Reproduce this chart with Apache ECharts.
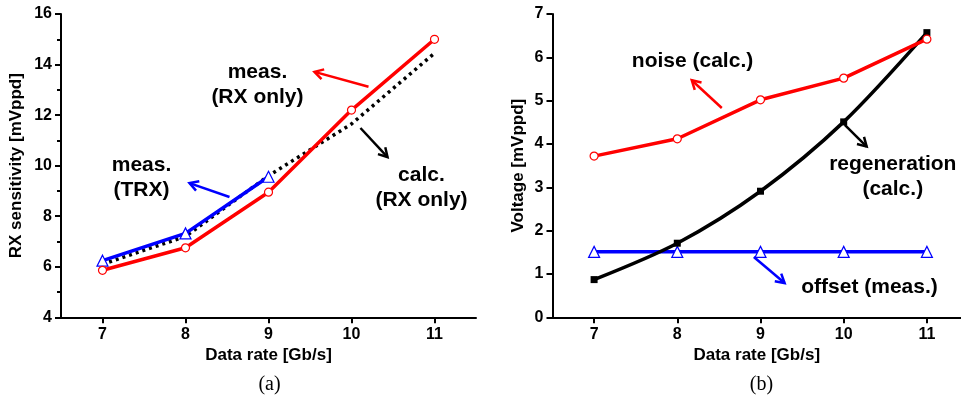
<!DOCTYPE html>
<html>
<head>
<meta charset="utf-8">
<script src="https://cdn.jsdelivr.net/npm/echarts@6/dist/echarts.min.js"></script>
<style>
  html, body { margin: 0; padding: 0; background: #fff; }
  #chart { width: 961px; height: 399px; }
</style>
</head>
<body>
<div id="chart"></div>
<script>
// Data rates (Gb/s) shared by both panels
const rates = [7, 8, 9, 10, 11];
const rateTicks = [7, 8, 9, 10, 11];

// Panel (a): RX sensitivity [mVppd]
const rxMeas = [5.86, 6.75, 8.95, 12.2, 15.0];
const trxRates = [7, 8, 9];
const trxMeas = [6.24, 7.32, 9.56];
const rxCalc = [6.1, 7.2, 9.6, 11.65, 14.45];

// Panel (b): Voltage [mVppd]
const noiseCalc = [3.72, 4.12, 5.02, 5.52, 6.42];
const regenCalc = [0.87, 1.71, 2.91, 4.51, 6.57];
const offsetMeas = [1.51, 1.51, 1.51, 1.51, 1.51];

// Annotation labels and their pointer arrows, in each panel's data units
const notesA = [
  { text: 'meas.\n(RX only)', at: [8.867, 13.19], color: '#000' },
  { text: 'calc.\n(RX only)', at: [10.843, 9.14], color: '#000' },
  { text: 'meas.\n(TRX)', at: [7.47, 9.53], color: '#000' }
];
const arrowsA = [
  { from: [10.205, 13.12], to: [9.554, 13.71], color: '#ff0000' },
  { from: [10.108, 11.49], to: [10.434, 10.34], color: '#000000' },
  { from: [8.53, 8.76], to: [8.048, 9.31], color: '#0000ff' }
];
const notesB = [
  { text: 'noise (calc.)', at: [8.183, 5.91], color: '#000' },
  { text: 'regeneration\n(calc.)', at: [10.59, 3.25], color: '#000' },
  { text: 'offset (meas.)', at: [10.31, 0.70], color: '#000' }
];
const arrowsB = [
  { from: [8.535, 4.83], to: [8.174, 5.47], color: '#ff0000' },
  { from: [10.013, 4.44], to: [10.276, 3.94], color: '#000000' },
  { from: [8.92, 1.39], to: [9.29, 0.79], color: '#0000ff' }
];

const pairs = (xs, ys) => xs.map((x, i) => [x, ys[i]]);

const FONT = '"Liberation Sans", Arial, Helvetica, sans-serif';
const RED = '#ff0000', BLUE = '#0000ff', BLACK = '#000000';

function xAxisFor(gridIndex, max) {
  return {
    type: 'value', gridIndex, min: 6.5, max,
    name: 'Data rate [Gb/s]', nameLocation: 'middle', nameGap: 30,
    nameTextStyle: { fontFamily: FONT, fontWeight: 'bold', fontSize: 17, color: '#000' },
    axisLine: { show: true, onZero: false, lineStyle: { color: '#000', width: 2 } },
    axisTick: { show: true, customValues: rateTicks, length: 6, lineStyle: { color: '#000', width: 2 } },
    axisLabel: { customValues: rateTicks, margin: 9, fontFamily: FONT, fontWeight: 'bold', fontSize: 16, color: '#000' },
    splitLine: { show: false }
  };
}

function yAxisFor(gridIndex, min, max, interval, name, gap, minor) {
  return {
    type: 'value', gridIndex, min, max, interval,
    name, nameLocation: 'middle', nameGap: gap,
    nameTextStyle: { fontFamily: FONT, fontWeight: 'bold', fontSize: 17, color: '#000' },
    axisLine: { show: true, onZero: false, lineStyle: { color: '#000', width: 2 } },
    axisTick: { show: true, length: 6, lineStyle: { color: '#000', width: 2 } },
    minorTick: { show: minor, splitNumber: 2, length: 4, lineStyle: { color: '#000', width: 2 } },
    axisLabel: { margin: 9, fontFamily: FONT, fontWeight: 'bold', fontSize: 16, color: '#000' },
    splitLine: { show: false }
  };
}

const chart = echarts.init(document.getElementById('chart'), null, { renderer: 'canvas' });

chart.setOption({
  backgroundColor: '#ffffff',
  animation: false,
  grid: [
    { left: 61, top: 14, width: 415, height: 303.3 },
    // right panel runs to the page edge; its axis is cut off there
    { left: 552.5, top: 14, width: 408.5, height: 303.3 }
  ],
  xAxis: [xAxisFor(0, 11.5), xAxisFor(1, 11.41)],
  yAxis: [
    yAxisFor(0, 4, 16, 2, 'RX sensitivity [mVppd]', 36, true),
    yAxisFor(1, 0, 7, 1, 'Voltage [mVppd]', 26, false)
  ],
  series: [
    {
      name: 'calc. (RX only)', type: 'line', xAxisIndex: 0, yAxisIndex: 0,
      data: pairs(rates, rxCalc), showSymbol: false, symbol: 'none',
      lineStyle: { color: BLACK, width: 3.5, type: [3, 4] }, z: 2
    },
    {
      name: 'meas. (TRX)', type: 'line', xAxisIndex: 0, yAxisIndex: 0,
      data: pairs(trxRates, trxMeas), symbol: 'triangle', symbolSize: 11,
      lineStyle: { color: BLUE, width: 3.5 },
      itemStyle: { color: '#ffffff', borderColor: BLUE, borderWidth: 1.2 }, z: 3
    },
    {
      name: 'meas. (RX only)', type: 'line', xAxisIndex: 0, yAxisIndex: 0,
      data: pairs(rates, rxMeas), symbol: 'circle', symbolSize: 8,
      lineStyle: { color: RED, width: 3.5 },
      itemStyle: { color: '#ffffff', borderColor: RED, borderWidth: 1.2 }, z: 4
    },
    {
      name: 'offset (meas.)', type: 'line', xAxisIndex: 1, yAxisIndex: 1,
      data: pairs(rates, offsetMeas), symbol: 'triangle', symbolSize: 11,
      lineStyle: { color: BLUE, width: 3.5 },
      itemStyle: { color: '#ffffff', borderColor: BLUE, borderWidth: 1.2 }, z: 2
    },
    {
      name: 'regeneration (calc.)', type: 'line', xAxisIndex: 1, yAxisIndex: 1,
      data: pairs(rates, regenCalc), symbol: 'rect', symbolSize: 7, smooth: 0.3,
      lineStyle: { color: BLACK, width: 3.5 },
      itemStyle: { color: BLACK }, z: 3
    },
    {
      name: 'noise (calc.)', type: 'line', xAxisIndex: 1, yAxisIndex: 1,
      data: pairs(rates, noiseCalc), symbol: 'circle', symbolSize: 8,
      lineStyle: { color: RED, width: 3.5 },
      itemStyle: { color: '#ffffff', borderColor: RED, borderWidth: 1.2 }, z: 4
    }
  ]
});

// Annotation texts, arrows and panel captions, placed through each grid's scales
function buildGraphics() {
  const els = [];
  const addNotes = (notes, gridIndex) => notes.forEach(n => {
    const p = chart.convertToPixel({ gridIndex }, n.at);
    els.push({
      type: 'text', x: p[0], y: p[1], z: 10,
      style: {
        text: n.text, fill: n.color, align: 'center', verticalAlign: 'middle',
        fontFamily: FONT, fontWeight: 'bold', fontSize: 21, lineHeight: 25
      }
    });
  });
  const addArrows = (arrows, gridIndex) => arrows.forEach(a => {
    const p1 = chart.convertToPixel({ gridIndex }, a.from);
    const p2 = chart.convertToPixel({ gridIndex }, a.to);
    const ang = Math.atan2(p2[1] - p1[1], p2[0] - p1[0]);
    const L = 10, h = Math.PI / 6;
    const left = [p2[0] - L * Math.cos(ang - h), p2[1] - L * Math.sin(ang - h)];
    const right = [p2[0] - L * Math.cos(ang + h), p2[1] - L * Math.sin(ang + h)];
    els.push({
      type: 'line', z: 10,
      shape: { x1: p1[0], y1: p1[1], x2: p2[0], y2: p2[1] },
      style: { stroke: a.color, lineWidth: 2.5 }
    });
    els.push({
      type: 'polyline', z: 10,
      shape: { points: [left, p2, right] },
      style: { stroke: a.color, lineWidth: 2.5, fill: null, lineJoin: 'miter' }
    });
  });
  addNotes(notesA, 0); addArrows(arrowsA, 0);
  addNotes(notesB, 1); addArrows(arrowsB, 1);

  const capA = chart.convertToPixel({ gridIndex: 0 }, [9, 4]);
  const capB = chart.convertToPixel({ gridIndex: 1 }, [9, 0]);
  [['(a)', capA[0] + 1], ['(b)', capB[0] + 1]].forEach(([t, x]) => {
    els.push({
      type: 'text', x, y: 385, z: 10,
      style: {
        text: t, fill: '#000', align: 'center', verticalAlign: 'middle',
        fontFamily: '"Liberation Serif", "Times New Roman", serif', fontSize: 20
      }
    });
  });
  return els;
}

chart.setOption({ graphic: { elements: buildGraphics() } });
</script>
</body>
</html>
